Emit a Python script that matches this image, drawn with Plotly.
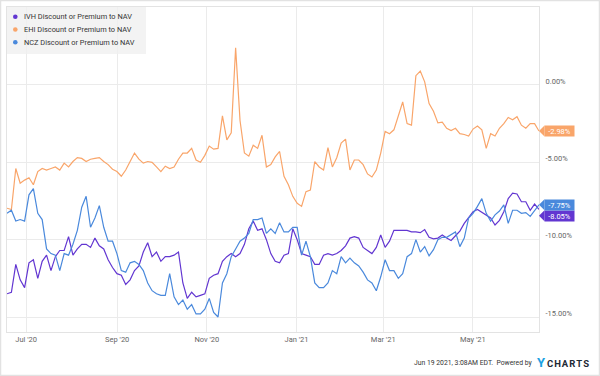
import plotly.graph_objects as go
import pandas as pd

# ---------------- data ----------------
ivh = [-13.5, -13.4, -11.6, -12.6, -13.1, -11.5, -11.3, -12.5, -11.4, -11.0,
       -12.0, -11.1, -10.7, -10.7, -9.8, -11.0, -10.6, -10.3, -10.3, -10.5,
       -9.9, -10.4, -10.6, -11.3, -11.8, -12.2, -12.3, -12.9, -12.6, -12.0,
       -11.7, -10.8, -10.2, -11.1, -10.8, -11.4, -11.1, -11.1, -11.0, -10.8,
       -12.8, -13.8, -13.4, -13.7, -13.6, -13.5, -12.5, -12.3, -12.2, -11.4,
       -11.1, -10.9, -11.1, -10.9, -10.3, -9.3, -8.8, -9.4, -9.3, -10.0,
       -10.9, -11.4, -11.5, -11.0, -10.9, -9.3, -10.0, -10.9, -11.0, -11.1,
       -11.6, -11.6, -11.0, -10.9, -11.0, -10.9, -10.7, -10.4, -9.9, -9.8,
       -9.9, -10.5, -10.7, -10.9, -10.5, -9.7, -10.5, -10.1, -9.4, -9.4,
       -9.4, -9.4, -9.5, -9.5, -9.55, -9.35, -9.85, -9.95, -9.9, -9.7,
       -9.9, -10.05, -9.75, -9.45, -8.95, -8.6, -8.2, -8.05, -8.25, -8.4,
       -8.6, -9.05, -8.75, -8.2, -7.35, -7.0, -7.05, -7.55, -7.55, -8.1,
       -7.7, -8.05]

ehi = [-7.97, -8.05, -5.4, -6.35, -6.15, -6.0, -6.45, -5.6, -5.4, -5.5,
       -5.4, -5.3, -5.5, -5.05, -5.3, -4.95, -4.7, -4.75, -4.95, -4.8,
       -4.75, -4.7, -4.95, -5.15, -5.45, -5.6, -5.9, -5.5, -4.95, -4.4,
       -4.8, -5.05, -4.95, -5.0, -5.3, -5.6, -5.25, -5.4, -5.3, -4.8,
       -4.4, -4.4, -4.1, -4.85, -5.0, -4.55, -3.95, -4.15, -4.1, -2.0,
       -3.55, -3.1, 2.4, -2.3, -4.4, -4.6, -3.9, -4.1, -3.25, -5.3,
       -5.15, -4.65, -4.3, -5.9, -6.45, -7.2, -7.65, -7.85, -6.9, -6.8,
       -4.95, -5.3, -5.5, -4.05, -5.3, -4.7, -3.75, -3.5, -5.5, -4.85,
       -4.85, -5.15, -5.75, -5.95, -5.5, -4.4, -3.0, -3.15, -2.9, -2.05,
       -1.1, -2.5, -2.6, 0.6, 0.9, 0.2, -1.2, -1.7, -2.45, -2.4,
       -2.8, -2.95, -2.8, -3.15, -3.2, -3.3, -2.85, -2.65, -2.9, -4.1,
       -3.15, -3.3, -2.8, -2.5, -2.1, -2.25, -2.05, -2.6, -2.8, -2.5,
       -2.5, -2.98]

ncz = [-8.3, -8.1, -8.8, -8.7, -8.8, -7.1, -6.7, -8.3, -8.7, -10.6,
       -10.9, -11.0, -12.0, -10.9, -11.0, -10.3, -9.4, -7.9, -7.2, -9.2,
       -8.6, -7.8, -9.2, -10.1, -10.1, -10.9, -12.0, -12.1, -11.5, -11.4,
       -11.6, -12.0, -12.8, -13.3, -13.5, -13.6, -13.6, -12.2, -13.7, -14.2,
       -13.9, -14.5, -14.2, -14.8, -14.8, -14.5, -13.8, -14.7, -15.0, -12.8,
       -12.2, -11.1, -10.6, -10.1, -9.9, -9.6, -8.7, -8.7, -8.6, -9.6,
       -9.3, -9.6, -8.9, -9.5, -9.5, -9.2, -9.2, -11.0, -10.1, -11.1,
       -12.8, -13.1, -13.1, -12.8, -12.0, -12.2, -11.1, -11.5, -11.2, -11.5,
       -11.7, -12.1, -12.6, -12.8, -13.3, -12.4, -11.3, -12.0, -12.0, -12.5,
       -12.2, -11.1, -10.9, -10.0, -10.8, -10.45, -11.05, -10.65, -10.0, -9.85,
       -9.85, -9.7, -9.5, -10.45, -9.9, -8.6, -8.3, -7.85, -7.35, -8.3,
       -8.8, -8.4, -8.15, -7.75, -8.95, -8.1, -8.1, -8.3, -8.25, -8.5,
       -8.1, -7.75]

start_date = "2020-06-18"
end_date = "2021-06-15"
dates = pd.date_range(start_date, end_date, periods=len(ivh))

series_names = ["IVH Discount or Premium to NAV",
                "EHI Discount or Premium to NAV",
                "NCZ Discount or Premium to NAV"]
series_values = [ivh, ehi, ncz]
series_colors = ["#6236d1", "#f9a56a", "#4a89dc"]

y_tickvals = [0, -5, -10, -15]
y_ticktext = ["0.00%", "-5.00%", "-10.00%", "-15.00%"]
footer_text = "Jun 19 2021, 3:08AM EDT.  Powered by"

# ---------------- geometry helpers (layout only) ----------------
W, H = 600, 376
L, R, T, B = 7, 61, 7, 44
PW, PH = W - L - R, H - T - B
Y_RANGE = [-15.97, 5.04]
FONT = "Roboto, Arial, sans-serif"


def px_x(px):
    return (px - L) / PW


def px_y(py):
    return (H - B - py) / PH


def px_to_data(dpx):
    return dpx * (Y_RANGE[1] - Y_RANGE[0]) / PH


fig = go.Figure()
for name, vals, col in zip(series_names, series_values, series_colors):
    fig.add_trace(go.Scatter(x=dates, y=vals, mode="lines", name=name,
                             line=dict(color=col, width=1.2),
                             showlegend=False, hoverinfo="skip"))

shapes = []
annotations = []

# outer frame
shapes.append(dict(type="rect", xref="paper", yref="paper",
                   x0=px_x(0.5), x1=px_x(W - 0.5), y0=px_y(H - 0.5), y1=px_y(0.5),
                   line=dict(color="#e2e2e2", width=1.5), fillcolor="rgba(0,0,0,0)",
                   layer="above"))

# legend box
shapes.append(dict(type="rect", xref="paper", yref="paper",
                   x0=px_x(7), x1=px_x(146), y0=px_y(54), y1=px_y(7),
                   line=dict(width=0), fillcolor="rgba(240,240,240,0.8)", layer="above"))
for k, (name, col) in enumerate(zip(series_names, series_colors)):
    cy = 16.7 + 12.8 * k
    r = 2.3
    shapes.append(dict(type="circle", xref="paper", yref="paper",
                       x0=px_x(15.3 - r), x1=px_x(15.3 + r),
                       y0=px_y(cy + r), y1=px_y(cy - r),
                       fillcolor=col, line=dict(width=0), layer="above"))
    annotations.append(dict(xref="paper", yref="paper", x=px_x(21.5), y=px_y(cy),
                            xanchor="left", yanchor="middle", showarrow=False,
                            text=name, font=dict(family=FONT, size=7.4, color="#333333")))

# last-value tags
last_vals = [v[-1] for v in series_values]
tag_h = 11
tag_pos = {}
order = sorted(range(3), key=lambda i: -last_vals[i])
prev = None
for i in order:
    y = last_vals[i]
    if prev is not None and prev - y < px_to_data(tag_h):
        y = prev - px_to_data(tag_h)
    tag_pos[i] = y
    prev = y
for i in range(3):
    y = tag_pos[i]
    hh = px_to_data(tag_h / 2)
    shapes.append(dict(type="path", xref="paper", yref="y",
                       path=f"M {px_x(539)} {y} L {px_x(544.5)} {y + hh} L {px_x(544.5)} {y - hh} Z",
                       fillcolor=series_colors[i], line=dict(width=0), layer="above"))
    annotations.append(dict(xref="paper", yref="y", x=px_x(544), y=y,
                            xanchor="left", yanchor="middle", showarrow=False,
                            text=f"{last_vals[i]:.2f}%", bgcolor=series_colors[i],
                            width=29, height=tag_h - 1, borderpad=0, align="center",
                            font=dict(family=FONT, size=7.5, color="#ffffff")))

# footer
annotations.append(dict(xref="paper", yref="paper", x=px_x(534), y=px_y(363),
                        xanchor="right", yanchor="middle", showarrow=False,
                        text=footer_text, font=dict(family=FONT, size=6.8, color="#333333")))
annotations.append(dict(xref="paper", yref="paper", x=px_x(535), y=px_y(362.5),
                        xanchor="left", yanchor="middle", showarrow=False,
                        text="<b>Y</b>", font=dict(family="Roboto, Arial", size=13, color="#1ba1e2")))
annotations.append(dict(xref="paper", yref="paper", x=px_x(545), y=px_y(363),
                        xanchor="left", yanchor="middle", showarrow=False,
                        text="<b>C&#8202;H&#8202;A&#8202;R&#8202;T&#8202;S</b>",
                        font=dict(family="Roboto, Arial", size=9.5, color="#1e2a36")))

fig.update_layout(
    width=W, height=H,
    margin=dict(l=L, r=R, t=T, b=B, pad=0),
    paper_bgcolor="white", plot_bgcolor="white",
    showlegend=False,
    shapes=shapes, annotations=annotations,
    xaxis=dict(type="date", range=[start_date, end_date],
               tick0="2020-07-01", dtick="M2", tickformat="%b '%y",
               showgrid=True, gridcolor="#ebebeb", gridwidth=1,
               showline=True, mirror=True, linecolor="#e3e3e3", linewidth=1,
               ticks="", zeroline=False,
               tickfont=dict(family=FONT, size=7.5, color="#666666")),
    yaxis=dict(side="right", range=Y_RANGE,
               tickvals=y_tickvals, ticktext=y_ticktext,
               showgrid=True, gridcolor="#ebebeb", gridwidth=1,
               showline=True, mirror=True, linecolor="#e3e3e3", linewidth=1,
               ticks="", zeroline=False, ticklabelstandoff=4, ticklabelshift=-4,
               tickfont=dict(family=FONT, size=7.5, color="#666666")),
)

fig.write_html("out.html", config={"displayModeBar": False},
               post_script="document.body.style.margin='0';")
